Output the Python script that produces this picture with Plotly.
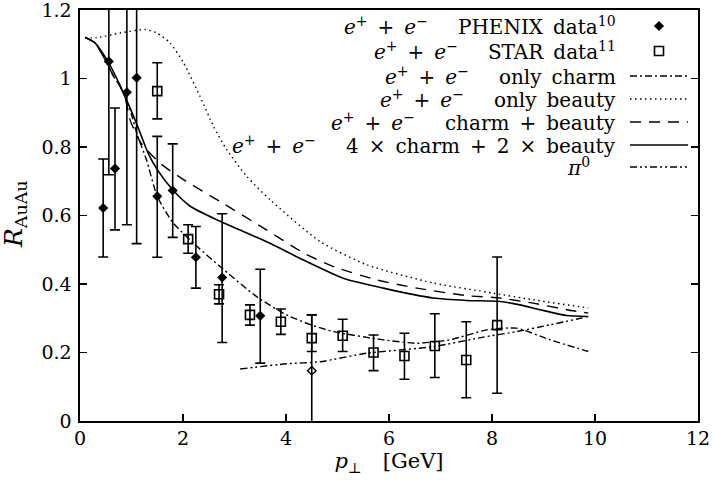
import plotly.graph_objects as go
import numpy as np

# ---------------- data ----------------
# PHENIX e+ + e- data (filled diamonds); upper / lower ends of the error bars
phx_x = [0.45, 0.56, 0.68, 0.91, 1.10, 1.50, 1.80, 2.25, 2.76, 3.50]
phx_y = [0.622, 1.05, 0.737, 0.96, 1.002, 0.656, 0.673, 0.478, 0.419, 0.307]
phx_hi = [0.765, 1.45, 0.914, 1.45, 1.45, 0.831, 0.809, 0.568, 0.605, 0.443]
phx_lo = [0.479, 0.719, 0.558, 0.573, 0.518, 0.478, 0.536, 0.388, 0.229, 0.169]
# PHENIX point drawn with an open diamond
phx2_x = [4.50]
phx2_y = [0.147]
phx2_hi = [0.310]
phx2_lo = [-0.10]

# STAR e+ + e- data (open squares)
star_x = [1.50, 2.10, 2.70, 3.30, 3.90, 4.50, 5.10, 5.70, 6.30, 6.89, 7.50, 8.10]
star_y = [0.963, 0.531, 0.370, 0.310, 0.290, 0.242, 0.249, 0.200, 0.190, 0.219, 0.178, 0.280]
star_hi = [1.046, 0.573, 0.398, 0.339, 0.327, 0.310, 0.297, 0.251, 0.256, 0.313, 0.290, 0.479]
star_lo = [0.882, 0.490, 0.342, 0.280, 0.253, 0.203, 0.203, 0.147, 0.122, 0.127, 0.068, 0.081]

# only charm
ch_x = [0.10, 0.29, 0.45, 0.65, 0.78, 0.87, 1.00, 1.10, 1.29, 1.50, 1.80, 2.27, 2.72, 3.43, 4.01,
        4.50, 4.92, 5.89, 6.54, 7.18, 7.90, 8.48, 9.13, 9.87]
ch_y = [1.120, 1.104, 1.065, 1.007, 0.977, 0.948, 0.895, 0.841, 0.763, 0.656, 0.580, 0.510, 0.451,
        0.363, 0.310, 0.280, 0.261, 0.237, 0.227, 0.237, 0.266, 0.271, 0.237, 0.203]
# only beauty
bt_x = [0.10, 0.32, 0.78, 1.26, 1.49, 1.75, 2.01, 2.33, 2.59, 2.85, 3.24, 3.69, 4.66, 5.57, 6.86,
        8.03, 8.80, 9.87]
bt_y = [1.119, 1.119, 1.133, 1.143, 1.133, 1.104, 1.046, 0.948, 0.861, 0.792, 0.714, 0.646, 0.524,
        0.456, 0.403, 0.373, 0.354, 0.330]
# charm + beauty
cb_x = [0.10, 0.29, 0.45, 0.65, 0.78, 0.87, 0.97, 1.17, 1.55, 2.01, 2.75, 3.62, 4.35, 4.92, 5.76,
        6.54, 7.51, 8.16, 8.80, 9.45, 9.87]
cb_y = [1.120, 1.104, 1.065, 1.007, 0.977, 0.948, 0.880, 0.815, 0.753, 0.705, 0.638, 0.558, 0.490,
        0.451, 0.412, 0.388, 0.366, 0.359, 0.344, 0.325, 0.315]
# 4 x charm + 2 x beauty
fc_x = [0.10, 0.29, 0.54, 0.74, 0.87, 1.00, 1.13, 1.32, 1.50, 1.80, 2.14, 2.72, 3.69, 4.27, 5.11,
        5.89, 6.86, 7.51, 8.16, 8.54, 8.93, 9.45, 9.87]
fc_y = [1.120, 1.104, 1.050, 0.992, 0.948, 0.904, 0.856, 0.783, 0.734, 0.675, 0.627, 0.583, 0.519,
        0.475, 0.417, 0.388, 0.359, 0.352, 0.349, 0.339, 0.325, 0.308, 0.305]
# pi0
pi_x = [3.11, 4.01, 4.66, 5.57, 6.86, 7.83, 8.48, 9.13, 9.87]
pi_y = [0.152, 0.167, 0.173, 0.198, 0.217, 0.245, 0.261, 0.281, 0.305]

x_ticks = [0, 2, 4, 6, 8, 10, 12]
y_ticks = [0, 0.2, 0.4, 0.6, 0.8, 1, 1.2]
y_tick_text = ["0", "0.2", "0.4", "0.6", "0.8", "1", "1.2"]

SP = "\u2002"
EE = "<i>e</i><sup>+</sup>" + SP + "+" + SP + "<i>e</i><sup>\u2212</sup>\u2003" + SP
labels = [
    EE + "PHENIX" + SP + "data<sup>10</sup>",
    EE + "STAR" + SP + "data<sup>11</sup>",
    EE + "only" + SP + "charm",
    EE + "only" + SP + "beauty",
    EE + "charm" + SP + "+" + SP + "beauty",
    EE + "4" + SP + "\u00d7" + SP + "charm" + SP + "+" + SP + "2" + SP + "\u00d7" + SP + "beauty",
    "<i>\u03c0</i><sup>0</sup>",
]

SERIF = "DejaVu Serif"
BLACK = "black"

# page / plot geometry (pixels)
L, R, T, B = 80, 16, 10, 59
W, H = 714, 480
pw, ph = W - L - R, H - T - B
row_px = [26, 51, 76, 99, 122, 145, 167]       # legend row centres
text_right = [618, 618, 618, 618, 618, 618, 592]


def py(p):
    return 1 - (p - T) / ph


def ebar(y, hi, lo):
    y = np.array(y)
    return dict(type="data", symmetric=False, array=np.array(hi) - y, arrayminus=y - np.array(lo),
                color=BLACK, thickness=1.6, width=5)


fig = go.Figure()
fig.add_trace(go.Scatter(x=phx_x, y=phx_y, mode="markers", name=" ", legend="legend",
                         marker=dict(symbol="diamond", size=7.8, color=BLACK),
                         error_y=ebar(phx_y, phx_hi, phx_lo)))
fig.add_trace(go.Scatter(x=star_x, y=star_y, mode="markers", name=" ", legend="legend2",
                         marker=dict(symbol="square-open", size=9, color=BLACK, line=dict(width=1.6)),
                         error_y=ebar(star_y, star_hi, star_lo)))
fig.add_trace(go.Scatter(x=phx2_x, y=phx2_y, mode="markers", showlegend=False,
                         marker=dict(symbol="diamond-open", size=6.5, color=BLACK, line=dict(width=1.4)),
                         error_y=ebar(phx2_y, phx2_hi, phx2_lo)))
fig.add_trace(go.Scatter(x=ch_x, y=ch_y, mode="lines", name=" ", legend="legend3",
                         line=dict(color=BLACK, width=1.4, dash="7px,3px,2px,3px", shape="spline", smoothing=0.6)))
fig.add_trace(go.Scatter(x=bt_x, y=bt_y, mode="lines", name=" ", legend="legend4",
                         line=dict(color=BLACK, width=1.4, dash="1.5px,3.5px", shape="spline", smoothing=0.6)))
fig.add_trace(go.Scatter(x=cb_x, y=cb_y, mode="lines", name=" ", legend="legend5",
                         line=dict(color=BLACK, width=1.4, dash="11px,8px", shape="spline", smoothing=0.6)))
fig.add_trace(go.Scatter(x=fc_x, y=fc_y, mode="lines", name=" ", legend="legend6",
                         line=dict(color=BLACK, width=1.6, shape="spline", smoothing=0.6)))
fig.add_trace(go.Scatter(x=pi_x, y=pi_y, mode="lines", name=" ", legend="legend7",
                         line=dict(color=BLACK, width=1.4, dash="7px,3px,2px,3px,2px,3px", shape="spline", smoothing=0.6)))

# legend text, right aligned, to the left of the legend samples
for lab, rp, xr in zip(labels, row_px, text_right):
    fig.add_annotation(x=(xr - L) / pw, y=py(rp), xref="paper", yref="paper",
                       xanchor="right", yanchor="middle", text=lab, showarrow=False,
                       font=dict(family=SERIF, size=20, color=BLACK))

# y-axis title
fig.add_annotation(x=(15 - L) / pw, y=py(214), xref="paper", yref="paper", xanchor="center",
                   yanchor="middle", textangle=-90, showarrow=False,
                   text="<i>R</i><sub>AuAu</sub>", font=dict(family=SERIF, size=25, color=BLACK))

axis_common = dict(showline=True, linecolor=BLACK, linewidth=1.6, ticks="inside",
                   ticklen=7, tickwidth=1.4, tickcolor=BLACK, showgrid=False, zeroline=False,
                   automargin=False, ticklabeloverflow="allow",
                   tickfont=dict(family=SERIF, size=19, color=BLACK))

legends = {}
for i, rp in enumerate(row_px):
    key = "legend" if i == 0 else "legend%d" % (i + 1)
    legends[key] = dict(x=(625 - L) / pw, y=py(rp), xanchor="left", yanchor="middle",
                        bgcolor="rgba(0,0,0,0)", font=dict(family=SERIF, size=13),
                        itemwidth=58, tracegroupgap=0)

fig.update_layout(
    width=W, height=H,
    margin=dict(l=L, r=R, t=T, b=B, autoexpand=False),
    paper_bgcolor="white", plot_bgcolor="white",
    xaxis=dict(range=[0, 12], tickvals=x_ticks, ticktext=[str(v) for v in x_ticks], mirror=True,
               title=dict(text="<i>p</i><sub>\u22a5</sub>\u2003[GeV]", font=dict(family=SERIF, size=21, color=BLACK), standoff=2),
               **axis_common),
    yaxis=dict(range=[0, 1.2], tickvals=y_ticks, ticktext=y_tick_text, ticklabelstandoff=3, mirror="ticks",
               **axis_common),
    showlegend=True,
    **legends,
)

fig.write_html("out.html", config={"displayModeBar": False, "staticPlot": True},
               post_script="document.body.style.margin='0';document.body.style.overflow='hidden';")
